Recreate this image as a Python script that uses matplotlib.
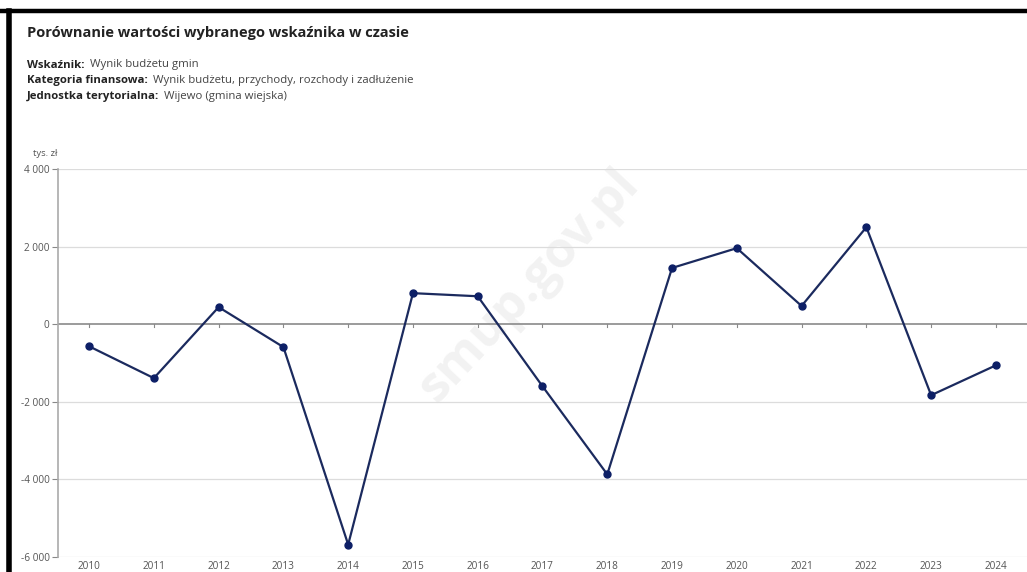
import numpy as np
import matplotlib.pyplot as plt
from matplotlib.ticker import FuncFormatter

years = [2010, 2011, 2012, 2013, 2014, 2015, 2016, 2017, 2018, 2019, 2020, 2021, 2022, 2023, 2024]
values = [-570, -1390, 440, -590, -5680, 800, 720, -1600, -3870, 1450, 1960, 470, 2500, -1830, -1060]
y_ticks = [-6000, -4000, -2000, 0, 2000, 4000]

title = "Porównanie wartości wybranego wskaźnika w czasie"
meta = [
    ("Wskaźnik:", "Wynik budżetu gmin"),
    ("Kategoria finansowa:", "Wynik budżetu, przychody, rozchody i zadłużenie"),
    ("Jednostka terytorialna:", "Wijewo (gmina wiejska)"),
]
unit = "tys. zł"

plt.rcParams['font.family'] = ['Open Sans', 'DejaVu Sans']

fig = plt.figure(figsize=(10.27, 5.72), dpi=100)
ax = fig.add_axes([58 / 1027, 1 - 557 / 572, 1 - 58 / 1027, (557 - 169) / 572])

line_color = '#1b2a5e'
ax.plot(years, values, color=line_color, linewidth=1.6, marker='o', markersize=5,
        markerfacecolor='#0d1f66', markeredgecolor='#0d1f66', zorder=5)

ax.set_xlim(2009.52, 2024.48)
ax.set_ylim(-6000, 4000)
ax.set_yticks(y_ticks)
ax.set_xticks(years)
ax.yaxis.set_major_formatter(FuncFormatter(lambda v, p: f"{int(v):,}".replace(",", " ")))

for y in y_ticks:
    if y != 0:
        ax.axhline(y, color='#dcdcdc', linewidth=0.9, zorder=1)
ax.axhline(0, color='#8a8a8a', linewidth=1.2, zorder=2)
for x in years:
    ax.plot([x, x], [0, -80], color='#8a8a8a', linewidth=0.8, zorder=2)

for s in ['top', 'right', 'bottom']:
    ax.spines[s].set_visible(False)
ax.spines['left'].set_color('#aaaaaa')
ax.spines['left'].set_linewidth(1.2)
ax.tick_params(axis='y', length=4, color='#888888', labelsize=7.2, labelcolor='#555555', pad=2)
ax.tick_params(axis='x', length=0, labelsize=7.2, labelcolor='#555555', pad=3)

# watermark, behind the line
ax.text(0.515, 0.5, "smup.gov.pl", transform=fig.transFigure, fontsize=36, fontweight='bold',
        color='#f2f2f2', rotation=47, ha='center', va='center', zorder=0.5)

fig.text(27 / 1027, 1 - 33 / 572, title, fontsize=10.5, fontweight='bold', color='#222222', va='center')
for i, (k, v) in enumerate(meta):
    yy = 1 - (65 + i * 15.5) / 572
    t = fig.text(27 / 1027, yy, k, fontsize=8.2, fontweight='bold', color='#222222', va='center')
    fig.canvas.draw()
    bb = t.get_window_extent()
    fig.text((bb.x1 + 5) / 1027, yy, v, fontsize=8.2, color='#444444', va='center')

fig.text(33 / 1027, 1 - 153 / 572, unit, fontsize=6.8, color='#555555', va='center')

# frame of screenshot
fig.add_artist(plt.Line2D([0, 1], [1 - 11 / 572, 1 - 11 / 572], color='black', linewidth=3.2, transform=fig.transFigure))
fig.add_artist(plt.Line2D([8.5 / 1027, 8.5 / 1027], [0, 1 - 11 / 572], color='black', linewidth=4, transform=fig.transFigure))

fig.savefig("out.png", dpi=100)
